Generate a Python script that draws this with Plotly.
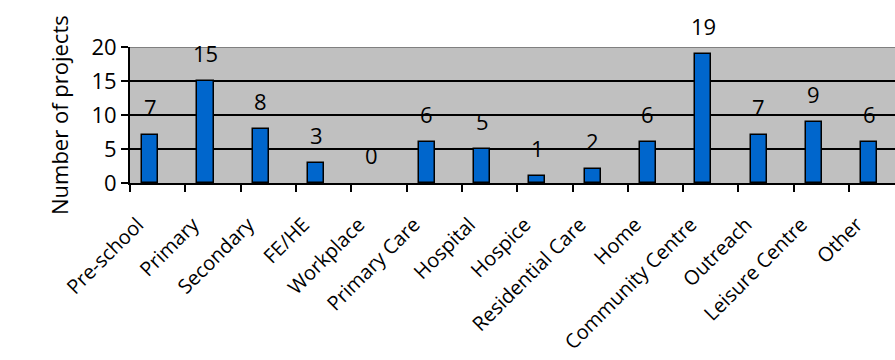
import plotly.graph_objects as go

# Projects by setting
categories = ["Pre-school", "Primary", "Secondary", "FE/HE", "Workplace",
              "Primary Care", "Hospital", "Hospice", "Residential Care", "Home",
              "Community Centre", "Outreach", "Leisure Centre", "Other"]
projects = [7, 15, 8, 3, 0, 6, 5, 1, 2, 6, 19, 7, 9, 6]
y_ticks = [0, 5, 10, 15, 20]

FONT = "Open Sans"
FSIZE = 22
BAR_W = 0.29
BAR_OFF = -0.28

fig = go.Figure()
fig.add_trace(go.Bar(
    x=categories, y=projects, width=BAR_W, offset=BAR_OFF,
    marker=dict(color="#0066CC",
                line=dict(color="black",
                          width=[1.5 if v > 0 else 0 for v in projects])),
    hoverinfo="skip",
))

# value labels above each bar
for c, v in zip(categories, projects):
    fig.add_annotation(x=c, y=v, text=str(v), showarrow=False,
                       xref="x", yref="y", xshift=-7.5, yshift=28,
                       yanchor="middle",
                       font=dict(family=FONT, size=FSIZE, color="black"))

# axis title
fig.add_annotation(text="Number of projects", xref="paper", yref="paper",
                   x=-0.115, y=0.5, textangle=-90, showarrow=False,
                   font=dict(family=FONT, size=FSIZE, color="black"))

# top border of the plot area
fig.add_shape(type="line", xref="paper", yref="y", x0=0, x1=1, y0=20, y1=20,
              line=dict(color="#808080", width=2), layer="above")

fig.update_layout(
    width=895, height=360,
    margin=dict(l=130, r=0, t=47, b=177),
    plot_bgcolor="#C0C0C0", paper_bgcolor="white",
    showlegend=False,
    font=dict(family=FONT, size=FSIZE, color="black"),
    bargap=0,
)
fig.update_xaxes(
    type="category", range=[-0.5, 13.33], tickangle=-45, automargin=False,
    tickson="boundaries", ticks="outside", ticklen=7, tickwidth=2,
    tickcolor="black", showline=True, linecolor="black", linewidth=2,
    showgrid=False, ticklabelstandoff=20, ticklabelshift=-20,
    tickfont=dict(family=FONT, size=20, color="black"),
)
fig.update_yaxes(
    range=[0, 20], tickvals=y_ticks, ticks="outside", ticklen=7, tickwidth=2,
    tickcolor="black", showline=True, linecolor="black", linewidth=2,
    showgrid=True, gridcolor="black", gridwidth=2, zeroline=False,
    automargin=False,
    tickfont=dict(family=FONT, size=FSIZE, color="black"),
)

fig.write_html("out.html")
